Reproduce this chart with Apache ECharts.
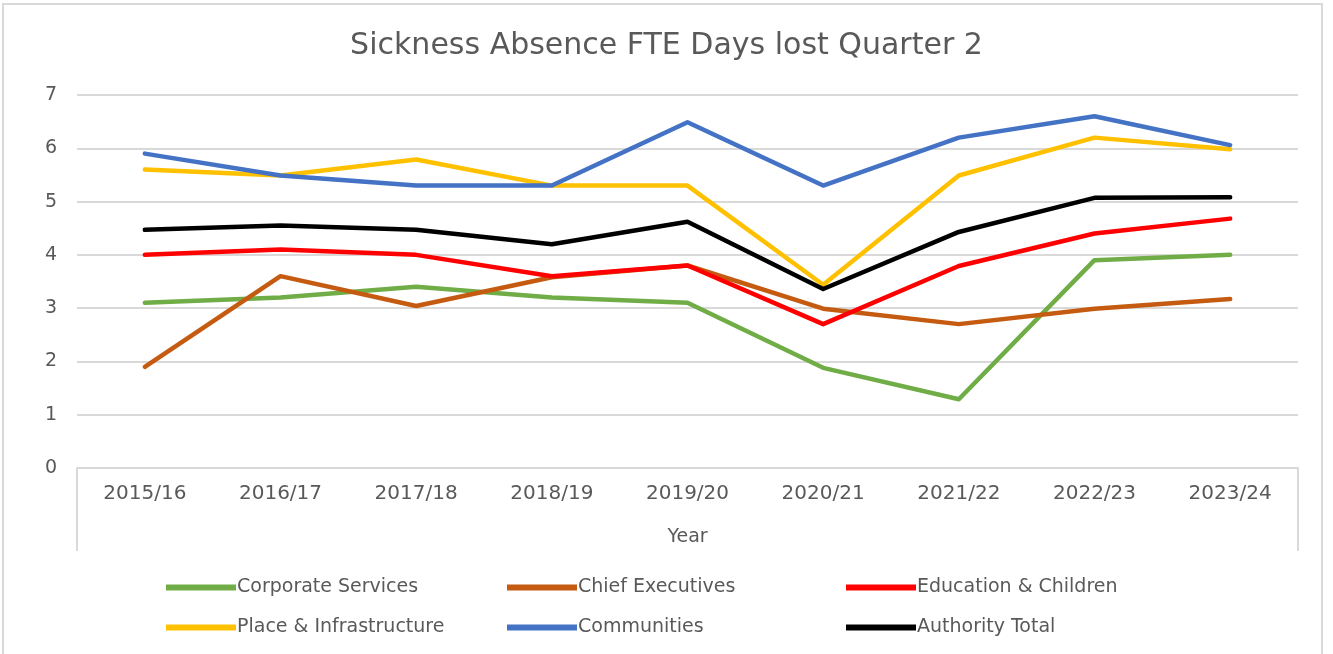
<!DOCTYPE html>
<html>
<head>
<meta charset="utf-8">
<script src="https://cdn.jsdelivr.net/npm/echarts@6/dist/echarts.min.js"></script>
<style>
  html, body { margin: 0; padding: 0; background: #fff; }
  #myChart { width: 1333px; height: 654px; }
</style>
</head>
<body>
<div id="myChart"></div>
<script>
  // 数据
  const info = {
    xList: ['2015/16', '2016/17', '2017/18', '2018/19', '2019/20', '2020/21', '2021/22', '2022/23', '2023/24'],
    series: [
      { name: 'Corporate Services', color: '#70ad47', data: [3.1, 3.2, 3.4, 3.2, 3.1, 1.88, 1.29, 3.9, 4.0] },
      { name: 'Chief Executives', color: '#c55a11', data: [1.9, 3.6, 3.04, 3.58, 3.8, 2.99, 2.7, 2.99, 3.17] },
      { name: 'Education & Children', color: '#ff0000', data: [4.0, 4.1, 4.0, 3.6, 3.8, 2.7, 3.79, 4.4, 4.68] },
      { name: 'Place & Infrastructure', color: '#ffc000', data: [5.6, 5.49, 5.79, 5.3, 5.3, 3.44, 5.49, 6.2, 5.98] },
      { name: 'Communities', color: '#4472c4', data: [5.9, 5.49, 5.3, 5.3, 6.49, 5.3, 6.2, 6.6, 6.06] },
      { name: 'Authority Total', color: '#000000', data: [4.47, 4.55, 4.47, 4.2, 4.62, 3.36, 4.43, 5.07, 5.08] },
    ],
  }
  const textColor = '#595959'
  const font = 'DejaVu Sans'
  const gridLine = '#d9d9d9'

  // 图例分三列，每列两项
  const legendCols = [
    { left: 166, data: ['Corporate Services', 'Place & Infrastructure'] },
    { left: 507, data: ['Chief Executives', 'Communities'] },
    { left: 846, data: ['Education & Children', 'Authority Total'] },
  ]

  const option = {
    animation: false,
    backgroundColor: '#fff',
    title: {
      text: 'Sickness Absence FTE Days lost Quarter 2',
      left: 'center',
      top: 26,
      textStyle: { color: textColor, fontFamily: font, fontSize: 30, fontWeight: 'normal' },
    },
    grid: { left: 77, right: 35, top: 95, bottom: 186 },
    legend: legendCols.map((c) => ({
      orient: 'vertical',
      left: c.left,
      top: 578,
      padding: 0,
      itemGap: 21,
      itemWidth: 70,
      itemHeight: 6,
      icon: 'rect',
      data: c.data,
      textStyle: { color: textColor, fontFamily: font, fontSize: 19, padding: [0, 0, 0, -4] },
    })),
    xAxis: {
      type: 'category',
      data: info.xList,
      boundaryGap: true,
      name: 'Year',
      nameLocation: 'middle',
      nameGap: 60,
      nameTextStyle: { color: textColor, fontFamily: font, fontSize: 19 },
      axisLine: { lineStyle: { color: gridLine, width: 2 } },
      axisTick: { show: false },
      axisLabel: { color: textColor, fontFamily: font, fontSize: 20, margin: 16, interval: 0 },
    },
    yAxis: {
      type: 'value',
      min: 0,
      max: 7,
      interval: 1,
      axisLine: { show: false },
      axisTick: { show: false },
      axisLabel: { color: textColor, fontFamily: font, fontSize: 19, margin: 20 },
      splitLine: { lineStyle: { color: gridLine, width: 2 } },
    },
    graphic: [
      // 外边框
      { type: 'rect', shape: { x: 3, y: 4, width: 1319, height: 660 }, style: { fill: 'none', stroke: gridLine, lineWidth: 2 }, silent: true },
      // 坐标轴下方的框线
      { type: 'line', shape: { x1: 77, y1: 468, x2: 77, y2: 551 }, style: { stroke: gridLine, lineWidth: 2 }, silent: true },
      { type: 'line', shape: { x1: 1298, y1: 468, x2: 1298, y2: 551 }, style: { stroke: gridLine, lineWidth: 2 }, silent: true },
    ],
    series: info.series.map((s) => ({
      name: s.name,
      type: 'line',
      data: s.data,
      symbol: 'none',
      silent: true,
      color: s.color,
      lineStyle: { width: 4.5, color: s.color, cap: 'round', join: 'round' },
    })),
  }

  function init() {
    let myChart = echarts.init(document.getElementById('myChart'))
    // 绘制图表
    myChart.setOption(option, true)
  }
  init()
</script>
</body>
</html>
